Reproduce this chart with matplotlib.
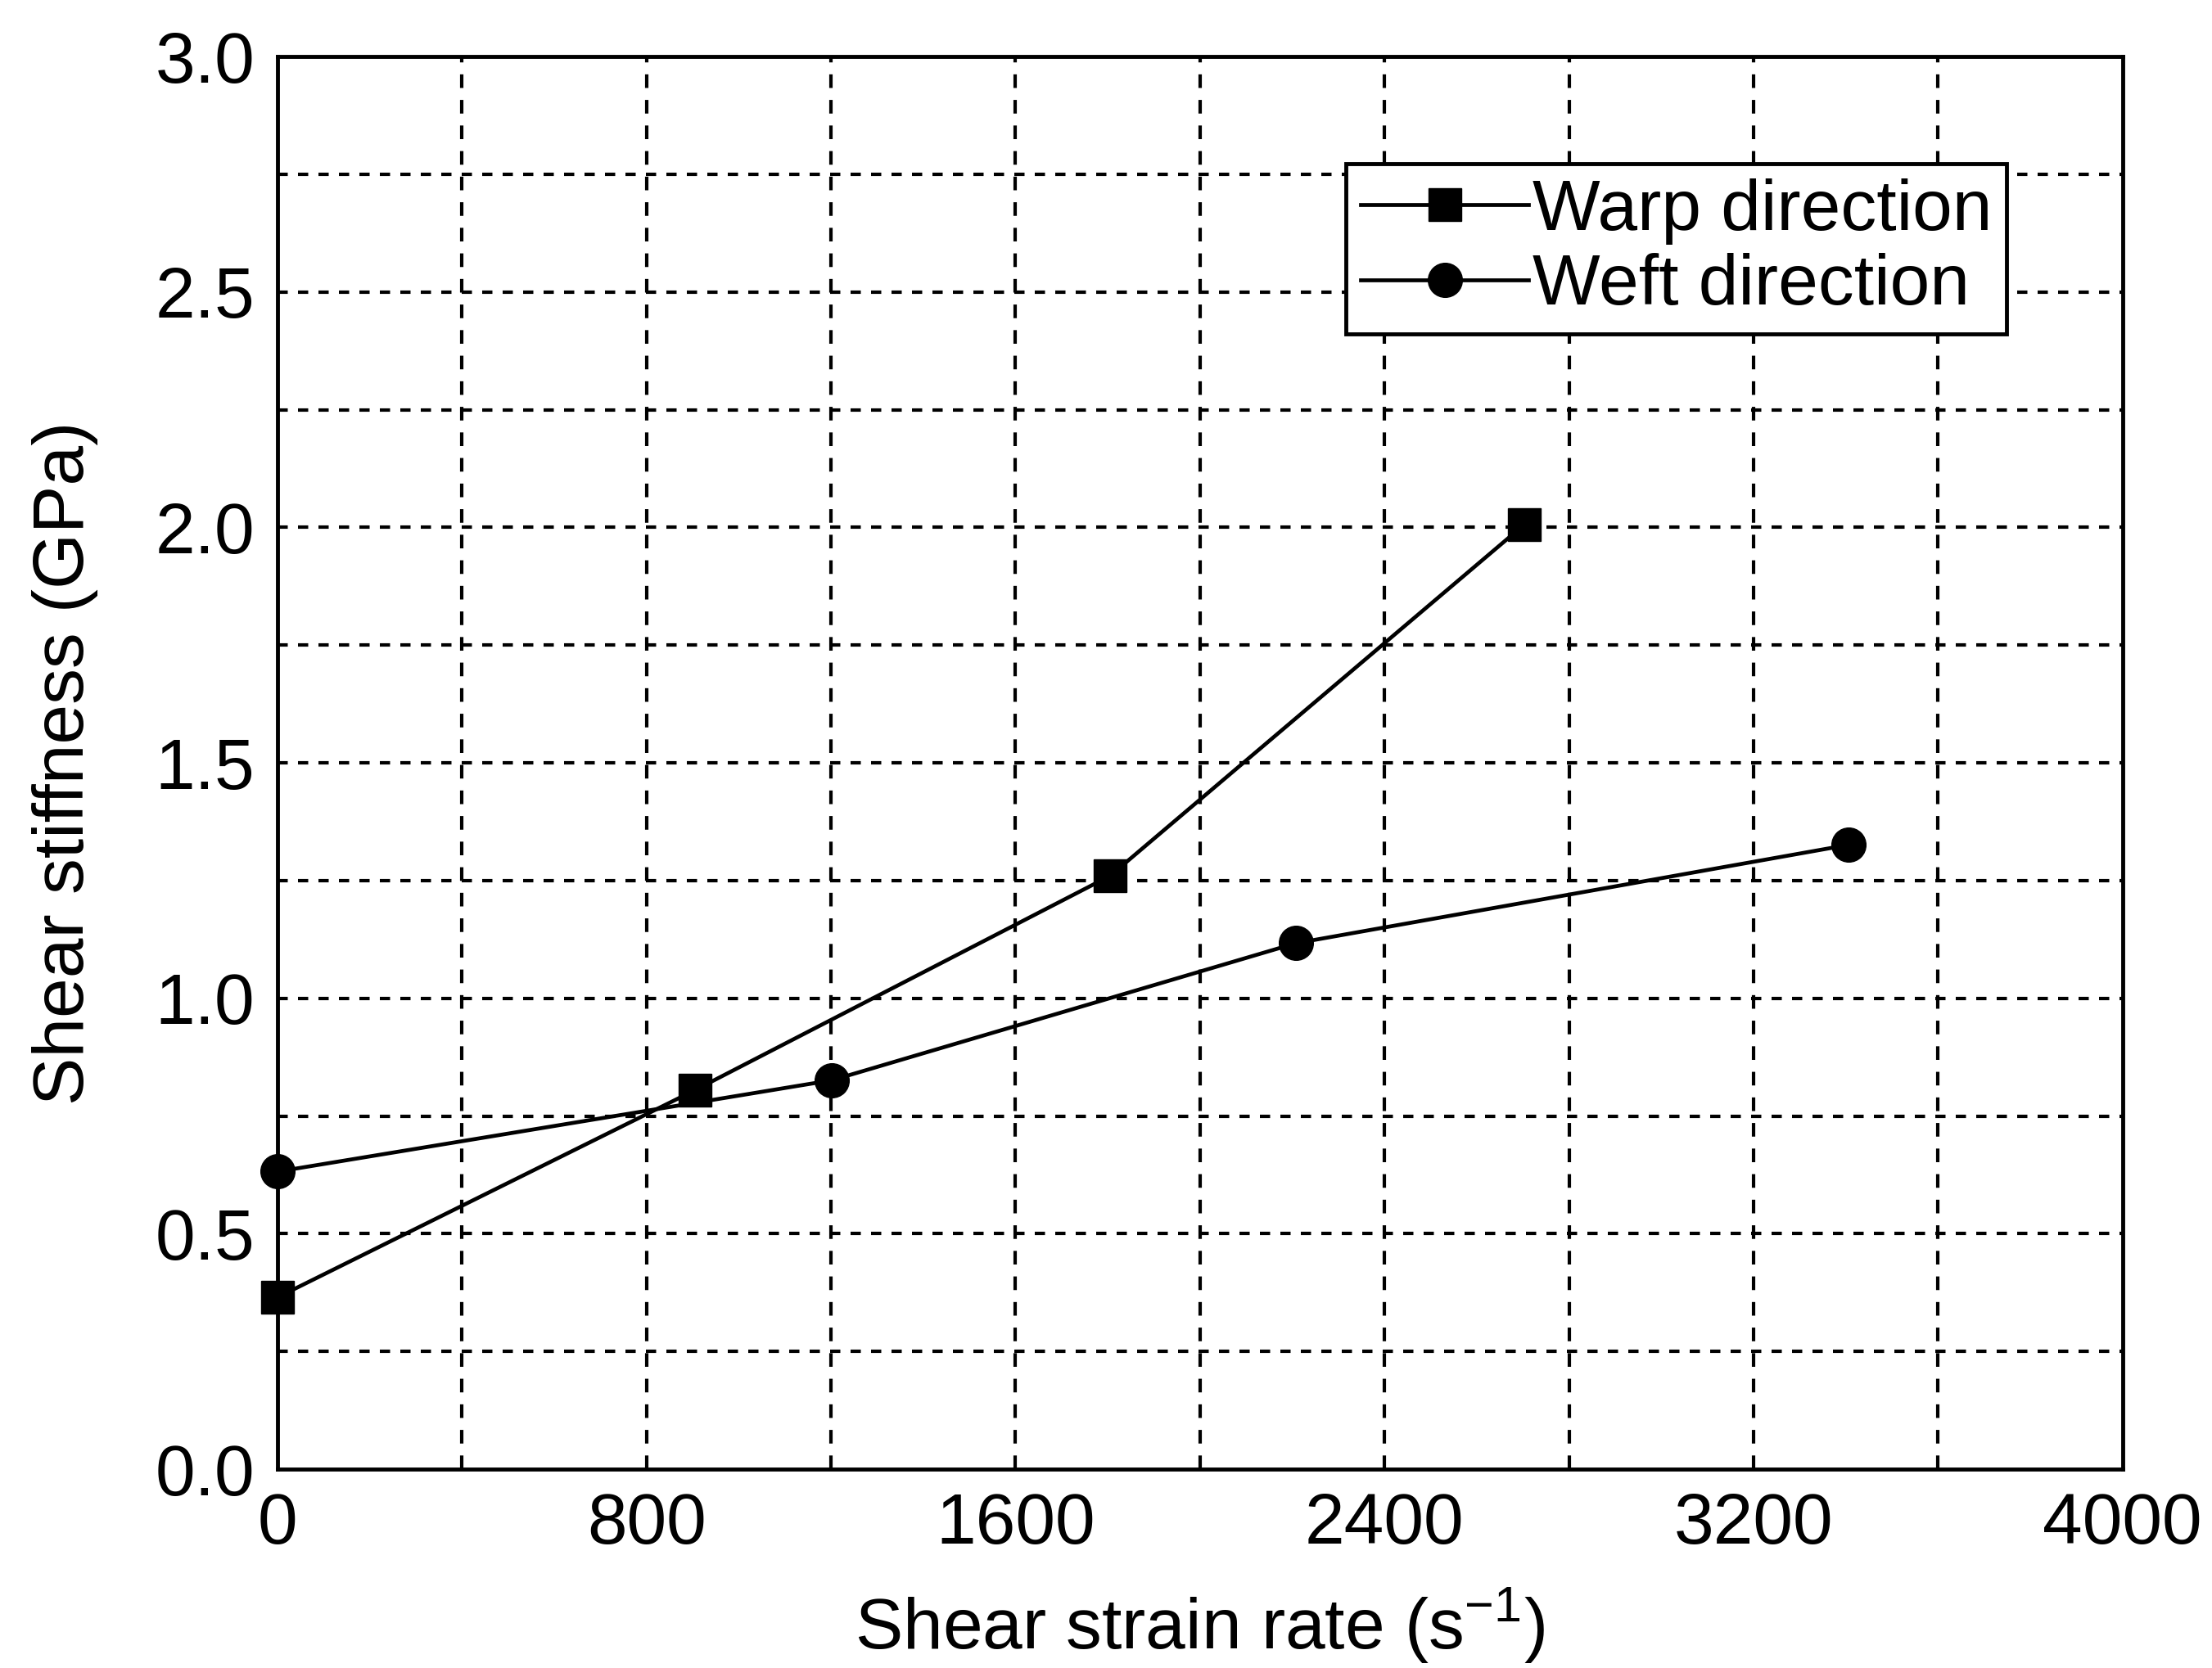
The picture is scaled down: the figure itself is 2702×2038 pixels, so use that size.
#!/usr/bin/env python3
"""
Shear stiffness vs. shear strain rate (warp / weft)
"""

import matplotlib
matplotlib.use("Agg")
import matplotlib.pyplot as plt

# data
warp_rate = [0, 905, 1805, 2703]
warp_stiff = [0.365, 0.805, 1.26, 2.006]
weft_rate = [0, 1202, 2208, 3407]
weft_stiff = [0.632, 0.826, 1.117, 1.326]

x_ticks = [0, 800, 1600, 2400, 3200, 4000]
y_ticks = [0.0, 0.5, 1.0, 1.5, 2.0, 2.5, 3.0]
x_grid = list(range(0, 4001, 400))
y_grid = [i * 0.25 for i in range(13)]

FS = 63

plt.rcParams['font.family'] = ['Liberation Sans', 'DejaVu Sans']

fig = plt.figure(figsize=(27.02, 20.38), dpi=100)
ax = fig.add_axes([0.1255, 0.1192, 0.834, 0.8469])

# 虚线网格
for gx in x_grid[1:-1]:
    ax.axvline(gx, color='black', lw=3.0, ls=(0, (4, 3.5)), zorder=1)
for gy in y_grid[1:-1]:
    ax.axhline(gy, color='black', lw=3.0, ls=(0, (3, 3)), zorder=1)

ax.plot(warp_rate, warp_stiff, color='black', lw=3.4, marker='s', ms=29,
        label='Warp direction', zorder=3, clip_on=False)
ax.plot(weft_rate, weft_stiff, color='black', lw=3.4, marker='o', ms=30,
        label='Weft direction', zorder=3, clip_on=False)

ax.set_xlim(0, 4000)
ax.set_ylim(0, 3.0)
ax.set_xticks(x_ticks)
ax.set_yticks(y_ticks)
ax.set_yticklabels([f'{v:.1f}' for v in y_ticks])
ax.tick_params(length=0, labelsize=FS, pad=20)
for s in ax.spines.values():
    s.set_linewidth(3.5)

ax.set_xlabel('Shear strain rate (s$^{\\mathregular{-1}}$)', fontsize=FS, labelpad=24)
ax.set_ylabel('Shear stiffness (GPa)', fontsize=FS, labelpad=50)

leg = ax.legend(loc='upper right', bbox_to_anchor=(0.937, 0.924), borderaxespad=0,
                fontsize=FS, handlelength=2.35, handletextpad=0.05, labelspacing=0.12,
                borderpad=0.2, fancybox=False, framealpha=1, edgecolor='black')
leg.get_frame().set_linewidth(3.5)

plt.savefig('out.png', dpi=100)
